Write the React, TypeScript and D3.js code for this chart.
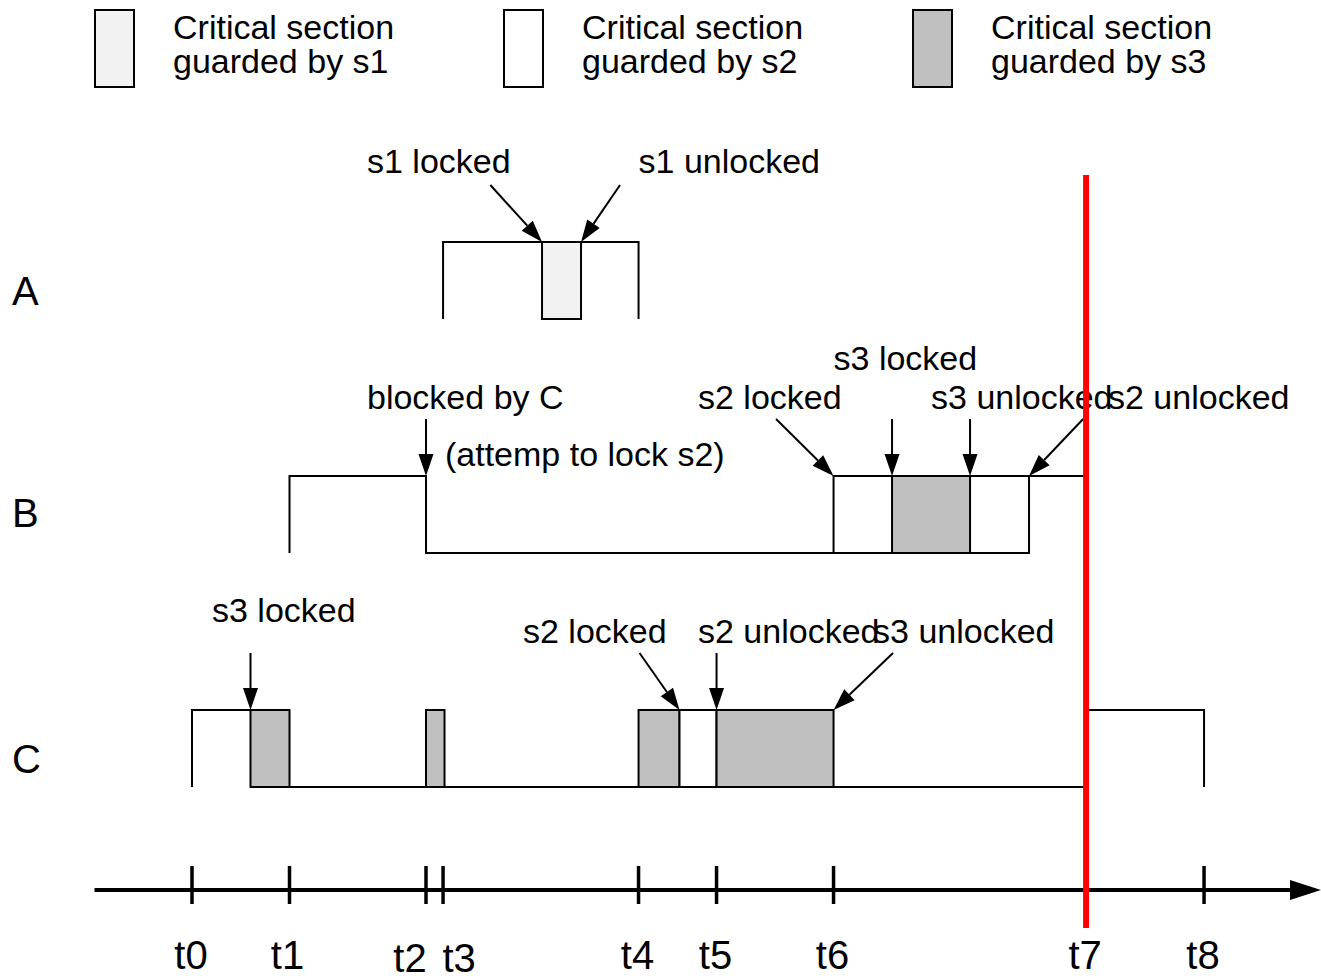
import React from "react";
import * as d3 from "d3";

// ---- data ----
const tickLabels = ["t0", "t1", "t2", "t3", "t4", "t5", "t6", "t7", "t8"];
const tickTimes = [0, 10, 24, 25.75, 45.8, 53.8, 65.8, 91.7, 103.8];

const rowNames = ["A", "B", "C"];

const lockNames = ["s1", "s2", "s3"];
const lockFills = ["#f2f2f2", "#ffffff", "#c0c0c0"];

// signal outline segments
const signalRows = [0, 1, 1, 2, 2, 2];
const signalPoints: [number, number][][] = [
  [[25.75, 0], [25.75, 1], [45.8, 1], [45.8, 0]],
  [[10, 0], [10, 1], [24, 1], [24, 0], [85.85, 0]],
  [[65.8, 1], [91.7, 1]],
  [[0, 0], [0, 1], [6, 1]],
  [[6, 0], [91.7, 0]],
  [[91.7, 1], [103.8, 1], [103.8, 0]],
];

// critical sections
const sectionRows = [0, 1, 1, 2, 2, 2, 2, 2];
const sectionLocks = ["s1", "s2", "s3", "s3", "s3", "s3", "s2", "s3"];
const sectionStarts = [35.9, 65.8, 71.8, 6, 24, 45.8, 50, 53.8];
const sectionEnds = [39.9, 85.85, 79.8, 10, 25.9, 50, 53.8, 65.8];

// annotations
const noteRows = [0, 0, 1, 1, 1, 1, 1, 1, 2, 2, 2, 2];
const noteTexts = [
  "s1 locked", "s1 unlocked",
  "blocked by C", "(attemp to lock s2)", "s2 locked", "s3 locked", "s3 unlocked", "s2 unlocked",
  "s3 locked", "s2 locked", "s2 unlocked", "s3 unlocked",
];
const noteTextTimes = [17.95, 45.8, 17.95, 25.95, 51.9, 65.8, 75.8, 93.95, 2.05, 33.95, 51.9, 69.85];
const noteLevels = [0, 0, 0, -1, 0, 1, 0, 0, 1, 0, 0, 0];
const arrowFrom = [30.6, 43.9, 24, NaN, 59.9, 71.8, 79.8, 91.4, 6, 45.9, 53.8, 71.9];
const arrowTo = [35.9, 39.9, 24, NaN, 65.8, 71.8, 79.8, 85.85, 6, 50, 53.8, 65.8];

const nowTime = 91.7; // red marker at t7

// ---- layout ----
const W = 1321;
const H = 979;
const FONT = "'Liberation Sans', Arial, Helvetica, sans-serif";
const rowHeight = 77;
const rowLabelDy = [63, 51, 63];
const axisY = 890;
const tickLabelDx = [-1, -2, -16, 16, -1, -1, -1, -1, -1];
const tickLabelDy = [0, 0, 3, 3, 0, 0, 0, 0, 0];

export default function App() {
  const x = d3.scaleLinear().domain([-10, 116]).range([94.5, 1323]);
  const rowTop = d3.scaleLinear().domain([0, 2]).range([242, 710]);
  const levelY = (row: number, level: number) => rowTop(row) + (level ? 0 : rowHeight);
  const line = d3.line<[number, number]>();
  const fillOf = (lock: string) => lockFills[lockNames.indexOf(lock)];

  const arrow = (x1: number, y1: number, x2: number, y2: number, key: string) => {
    const ang = Math.atan2(y2 - y1, x2 - x1);
    const len = 22;
    const hw = 7.5;
    const bx = x2 - len * Math.cos(ang);
    const by = y2 - len * Math.sin(ang);
    const px = -Math.sin(ang) * hw;
    const py = Math.cos(ang) * hw;
    return (
      <g key={key}>
        <line x1={x1} y1={y1} x2={bx} y2={by} stroke="#000" strokeWidth={2} />
        <polygon points={`${x2},${y2} ${bx + px},${by + py} ${bx - px},${by - py}`} fill="#000" />
      </g>
    );
  };

  return (
    <svg
      width={W}
      height={H}
      style={{ position: "absolute", left: 0, top: 0, display: "block", background: "#fff" }}
      fontFamily={FONT}
    >
      {/* legend */}
      {lockNames.map((l, i) => (
        <g key={l} transform={`translate(${95 + i * 409},0)`}>
          <rect x={0} y={10} width={39} height={77} fill={lockFills[i]} stroke="#000" strokeWidth={2} />
          <text x={78} y={39} fontSize={34}>Critical section</text>
          <text x={78} y={73} fontSize={34}>{`guarded by ${l}`}</text>
        </g>
      ))}

      {/* row labels */}
      {rowNames.map((r, i) => (
        <text key={r} x={12} y={rowTop(i) + rowLabelDy[i]} fontSize={40}>{r}</text>
      ))}

      {/* sections */}
      {sectionStarts.map((s, i) => (
        <rect
          key={"sec" + i}
          x={x(s)}
          y={rowTop(sectionRows[i])}
          width={x(sectionEnds[i]) - x(s)}
          height={rowHeight}
          fill={fillOf(sectionLocks[i])}
          stroke="#000"
          strokeWidth={2}
        />
      ))}

      {/* signal outlines */}
      {signalPoints.map((pts, i) => (
        <path
          key={"sig" + i}
          d={line(pts.map(([t, lv]) => [x(t), levelY(signalRows[i], lv)] as [number, number])) || ""}
          fill="none"
          stroke="#000"
          strokeWidth={2}
        />
      ))}

      {/* annotations */}
      {noteTexts.map((t, i) => {
        const top = rowTop(noteRows[i]);
        const lv = noteLevels[i];
        let baseY = top - 67;
        if (lv === 1) baseY = noteRows[i] === 2 ? top - 88 : top - 106;
        if (lv === -1) baseY = top - 10;
        if (noteRows[i] === 0) baseY = top - 69;
        return (
          <text key={"nt" + i} x={x(noteTextTimes[i])} y={baseY} fontSize={34}>
            {t}
          </text>
        );
      })}
      {arrowFrom.map((f, i) => {
        if (isNaN(f)) return null;
        const top = rowTop(noteRows[i]);
        return arrow(x(f), top - 57, x(arrowTo[i]), top, "ar" + i);
      })}

      {/* time axis */}
      <line x1={x(-10)} y1={axisY} x2={1292} y2={axisY} stroke="#000" strokeWidth={4} />
      <polygon points={`1290,${axisY - 10} 1321,${axisY} 1290,${axisY + 10}`} fill="#000" />
      {tickTimes.map((t, i) => (
        <g key={"tk" + i}>
          <line x1={x(t)} y1={axisY - 24} x2={x(t)} y2={axisY + 14} stroke="#000" strokeWidth={3.5} />
          <text x={x(t) + tickLabelDx[i]} y={969 + tickLabelDy[i]} fontSize={40} textAnchor="middle">
            {tickLabels[i]}
          </text>
        </g>
      ))}

      {/* current time marker */}
      <line x1={x(nowTime)} y1={175} x2={x(nowTime)} y2={928} stroke="#ff0000" strokeWidth={6} />
    </svg>
  );
}
